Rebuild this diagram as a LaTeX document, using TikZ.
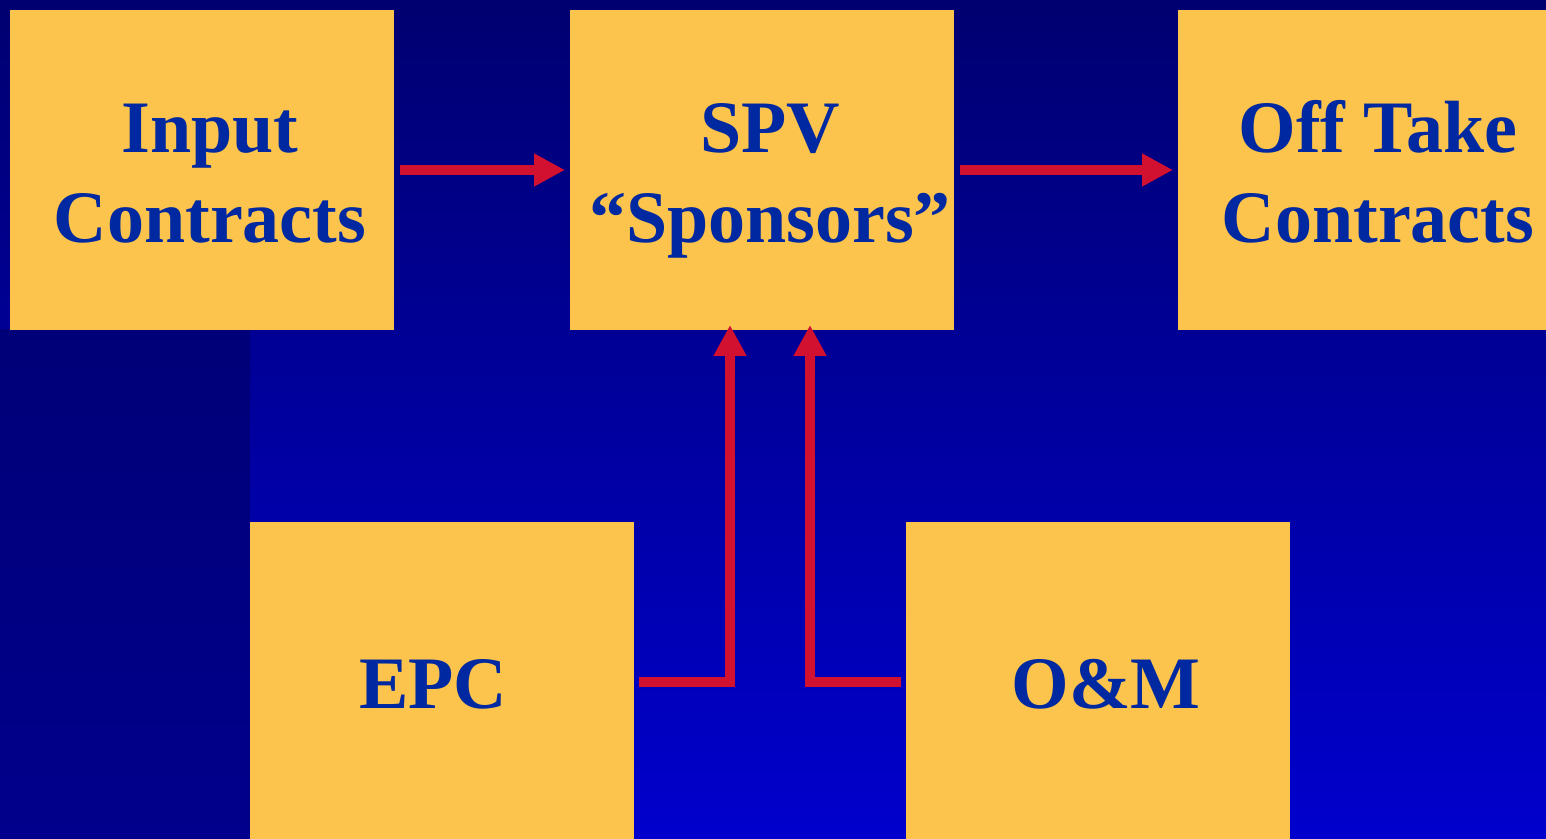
\documentclass[tikz,border=0pt]{standalone}
\usepackage{fontspec}
\setmainfont{Liberation Serif}
\usepackage{xcolor}
\usetikzlibrary{arrows.meta,calc}
\definecolor{navytop}{RGB}{0,0,112}
\definecolor{bluebot}{RGB}{0,0,205}
\definecolor{stripa}{RGB}{0,0,120}
\definecolor{stripb}{RGB}{0,0,140}
\definecolor{boxyellow}{RGB}{252,196,76}
\definecolor{txtblue}{RGB}{0,40,160}
\definecolor{arrowred}{RGB}{210,16,48}
\tikzset{>=latex}

\begin{document}
\begin{tikzpicture}[x=0.5pt,y=-0.5pt,
		box/.style = {fill=boxyellow, minimum width=192pt, minimum height=160pt,
			inner sep=0pt, outer sep=0pt},
		lbl/.style = {text=txtblue, align=center, inner sep=0pt, anchor=base,
			font=\bfseries\fontsize{37pt}{45pt}\selectfont},
		conn/.style = {draw=arrowred, line width=5pt,
			-{Triangle[length=15.5pt,width=15.5pt]}},
	]
		\clip (0,0) rectangle (1546,839);
		\shade[top color=navytop, bottom color=bluebot] (0,0) rectangle (1546,839);
		\shade[top color=stripa, bottom color=stripb] (0,330) rectangle (250,839);
		\node[box] (inp) at (202,170) {};
		\node[box] (spv) at (762,170) {};
		\node[box] (off) at (1370,170) {};
		\node[box] (epc) at (442,682) {};
		\node[box] (om) at (1098,682) {};
		\node[lbl] (inptxt) at ($(inp.center)+(8,73)$) {Input\\Contracts};
		\node[lbl] (spvtxt) at ($(spv.center)+(8,73)$) {SPV\\“Sponsors”};
		\node[lbl] (offtxt) at ($(off.center)+(8,73)$) {Off Take\\Contracts};
		\node[lbl] (epctxt) at ($(epc.center)+(-9,26)$) {EPC};
		\node[lbl] (omtxt) at ($(om.center)+(8,26)$) {O\&M};
		\coordinate (epcin) at ($(spv.south)+(-32,-5)$);
		\coordinate (omin) at ($(spv.south)+(48,-5)$);
		\draw[conn, shorten <=3pt, shorten >=2.5pt] (inp.east) -- (spv.west);
		\draw[conn, shorten <=3pt, shorten >=2.5pt] (spv.east) -- (off.west);
		\draw[conn, shorten <=2.5pt] (epc.east) -| (epcin);
		\draw[conn, shorten <=2.5pt] (om.west) -| (omin);
	\end{tikzpicture}
\end{document}
